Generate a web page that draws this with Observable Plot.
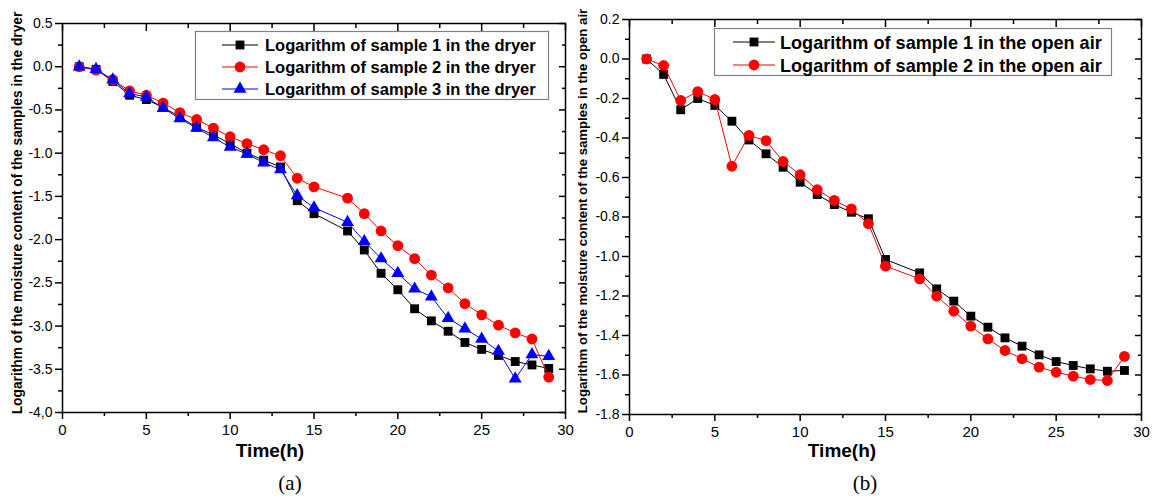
<!DOCTYPE html>
<html><head><meta charset="utf-8">
<script src="https://cdn.jsdelivr.net/npm/d3@7"></script>
<script src="https://cdn.jsdelivr.net/npm/@observablehq/plot@0.6"></script>
<style>
body{margin:0;background:#fff;}
#fig{position:relative;width:1157px;height:504px;background:#fff;font-family:"Liberation Sans",Arial,sans-serif;}
#fig > svg, #fig > div{position:absolute;top:0;}
</style></head><body><div id="fig"></div>
<script>
// ---- data ----
const hours = [1,2,3,4,5,6,7,8,9,10,11,12,13,14,15,17,18,19,20,21,22,23,24,25,26,27,28,29];

const dryer1 = [0,-0.03,-0.17,-0.33,-0.38,-0.47,-0.58,-0.70,-0.79,-0.89,-1.00,-1.08,-1.16,-1.55,-1.70,
                -1.90,-2.12,-2.39,-2.58,-2.80,-2.94,-3.06,-3.19,-3.27,-3.34,-3.41,-3.45,-3.49];
const dryer2 = [0,-0.04,-0.15,-0.28,-0.33,-0.42,-0.53,-0.61,-0.71,-0.81,-0.89,-0.96,-1.03,-1.29,-1.39,
                -1.52,-1.70,-1.90,-2.07,-2.22,-2.41,-2.56,-2.74,-2.87,-2.99,-3.08,-3.15,-3.59];
const dryer3 = [0,-0.03,-0.15,-0.31,-0.35,-0.48,-0.60,-0.71,-0.82,-0.93,-1.01,-1.11,-1.19,-1.49,-1.63,
                -1.80,-2.02,-2.22,-2.39,-2.57,-2.66,-2.91,-3.03,-3.15,-3.29,-3.61,-3.33,-3.35];

const air1 = [0,-0.078,-0.257,-0.200,-0.235,-0.315,-0.410,-0.480,-0.548,-0.624,-0.686,-0.737,-0.776,-0.809,-1.015,
              -1.083,-1.164,-1.226,-1.302,-1.358,-1.412,-1.454,-1.498,-1.532,-1.552,-1.569,-1.581,-1.577];
const air2 = [0,-0.033,-0.210,-0.165,-0.205,-0.543,-0.387,-0.413,-0.519,-0.586,-0.662,-0.716,-0.759,-0.834,-1.049,
              -1.113,-1.201,-1.277,-1.353,-1.417,-1.476,-1.518,-1.560,-1.586,-1.606,-1.623,-1.628,-1.506];

const dryerNames = ["Logarithm of sample 1 in the dryer","Logarithm of sample 2 in the dryer","Logarithm of sample 3 in the dryer"];
const airNames = ["Logarithm of sample 1 in the open air","Logarithm of sample 2 in the open air"];

const xTicks = [0,5,10,15,20,25,30];
const xTickLabels = ["0","5","10","15","20","25","30"];
const xMinor = [2.5,7.5,12.5,17.5,22.5,27.5];

const yTicksA = [0.5,0,-0.5,-1,-1.5,-2,-2.5,-3,-3.5,-4];
const yTickLabelsA = ["0.5","0.0","-0.5","-1.0","-1.5","-2.0","-2.5","-3.0","-3.5","-4,0"];
const yMinorA = [0.25,-0.25,-0.75,-1.25,-1.75,-2.25,-2.75,-3.25,-3.75];

const yTicksB = [0.2,0,-0.2,-0.4,-0.6,-0.8,-1,-1.2,-1.4,-1.6,-1.8];
const yTickLabelsB = ["0.2","0.0","-0.2","-0.4","-0.6","-0.8","-1.0","-1.2","-1.4","-1.6","-1.8"];
const yMinorB = [0.1,-0.1,-0.3,-0.5,-0.7,-0.9,-1.1,-1.3,-1.5,-1.7];

const xTitle = "Time(h)";
const yTitleA = "Logarithm of the moisture content of the samples in the dryer";
const yTitleB = "Logarithm of the moisture content of the samples in the open air";
const captions = ["(a)","(b)"];

// ---- helpers ----
function table(values, name){ return hours.map((h,i)=>({h, v: values[i], name})); }

const styles = {
  black: {stroke:"#000", fill:"#000", symbol:"square", r:5.0},
  red:   {stroke:"#ff0000", fill:"#ff0000", symbol:"circle", r:5.4},
  blue:  {stroke:"#0000ff", fill:"#0000ff", symbol:"triangle", r:4.8}
};

function seriesMarks(data, st){
  return [
    Plot.line(data, {x:"h", y:"v", stroke: st.stroke, strokeWidth: 1}),
    Plot.dot(data, {x:"h", y:"v", fill: st.fill, stroke: "none", symbol: st.symbol, r: st.r})
  ];
}

function axes(yTicks, yLabels, yMinor){
  const fx = new Map(xTicks.map((v,i)=>[v, xTickLabels[i]]));
  const fy = new Map(yTicks.map((v,i)=>[v, yLabels[i]]));
  const none = () => "";
  return [
    Plot.axisX({anchor:"bottom", ticks:xTicks, tickSize:7, tickPadding:5, tickFormat:d=>fx.get(d), fontSize:15, strokeWidth:1.5, label:null}),
    Plot.axisX({anchor:"bottom", ticks:xMinor, tickSize:4, tickFormat:none, strokeWidth:1.5, label:null}),
    Plot.axisX({anchor:"top", ticks:xTicks, tickSize:7, dy:7, tickFormat:none, strokeWidth:1.5, label:null}),
    Plot.axisX({anchor:"top", ticks:xMinor, tickSize:4, dy:4, tickFormat:none, strokeWidth:1.5, label:null}),
    Plot.axisY({anchor:"left", ticks:yTicks, tickSize:7, tickPadding:3, tickFormat:d=>fy.get(d), fontSize:14, strokeWidth:1.5, label:null}),
    Plot.axisY({anchor:"left", ticks:yMinor, tickSize:4, tickFormat:none, strokeWidth:1.5, label:null}),
    Plot.axisY({anchor:"right", ticks:yTicks, tickSize:7, dx:-7, tickFormat:none, strokeWidth:1.5, label:null}),
    Plot.axisY({anchor:"right", ticks:yMinor, tickSize:4, dx:-4, tickFormat:none, strokeWidth:1.5, label:null}),
    Plot.frame({stroke:"#000", strokeWidth:1.5})
  ];
}

const plotStyle = {fontFamily:"'Liberation Sans', Arial, sans-serif", color:"#000", background:"transparent", overflow:"visible"};

const fig = document.getElementById("fig");

// Chart (a)
const plotA = Plot.plot({
  width: 568, height: 450,
  marginLeft: 62, marginRight: 3, marginTop: 23, marginBottom: 38,
  x: {domain:[0,30]},
  y: {domain:[-4,0.5]},
  style: plotStyle,
  marks: [
    ...axes(yTicksA, yTickLabelsA, yMinorA),
    ...seriesMarks(table(dryer1), styles.black),
    ...seriesMarks(table(dryer2), styles.red),
    ...seriesMarks(table(dryer3), styles.blue)
  ]
});
plotA.style.left = "0px";
fig.appendChild(plotA);

// Chart (b)
const plotB = Plot.plot({
  width: 589, height: 450,
  marginLeft: 61, marginRight: 16, marginTop: 19, marginBottom: 36,
  x: {domain:[0,30]},
  y: {domain:[-1.8,0.2]},
  style: plotStyle,
  marks: [
    ...axes(yTicksB, yTickLabelsB, yMinorB),
    ...seriesMarks(table(air1), styles.black),
    ...seriesMarks(table(air2), styles.red)
  ]
});
plotB.style.left = "568px";
fig.appendChild(plotB);

// ---- overlay: titles, legends, captions ----
const ov = d3.select(fig).append("svg")
  .attr("width",1157).attr("height",504)
  .style("left","0px").style("pointer-events","none")
  .style("font-family","'Liberation Sans', Arial, sans-serif");

function fitText(sel, target, base){
  const w = sel.node().getComputedTextLength();
  if (w > 0) sel.attr("font-size", base * target / w);
}

// y titles
const ytA = ov.append("text").text(yTitleA).attr("font-weight","bold").attr("font-size",12.5)
  .attr("text-anchor","middle").attr("transform","translate(22,213) rotate(-90)");
fitText(ytA, 403, 12.5);
const ytB = ov.append("text").text(yTitleB).attr("font-weight","bold").attr("font-size",12.5)
  .attr("text-anchor","middle").attr("transform","translate(587,211) rotate(-90)");
fitText(ytB, 405, 12.5);

// x titles
ov.append("text").text(xTitle).attr("font-weight","bold").attr("font-size",19)
  .attr("text-anchor","middle").attr("x",270).attr("y",457);
ov.append("text").text(xTitle).attr("font-weight","bold").attr("font-size",19)
  .attr("text-anchor","middle").attr("x",842).attr("y",457);

// captions
ov.append("text").text(captions[0]).attr("font-family","'Liberation Serif', 'DejaVu Serif', serif")
  .attr("font-size",21).attr("text-anchor","middle").attr("x",290).attr("y",490);
ov.append("text").text(captions[1]).attr("font-family","'Liberation Serif', 'DejaVu Serif', serif")
  .attr("font-size",21).attr("text-anchor","middle").attr("x",865).attr("y",490);

// legends
function legend(box, rows, names, sts, lineX, markX, textX, textW, fs){
  ov.append("rect").attr("x",box[0]+0.5).attr("y",box[1]+0.5).attr("width",box[2]-box[0]).attr("height",box[3]-box[1])
    .attr("fill","#fff").attr("stroke","#808080").attr("stroke-width",1.2);
  names.forEach((n,i)=>{
    const st = sts[i], y = rows[i];
    ov.append("line").attr("x1",lineX[0]).attr("x2",lineX[1]).attr("y1",y).attr("y2",y).attr("stroke",st.stroke).attr("stroke-width",1);
    const sym = {square:d3.symbolSquare, circle:d3.symbolCircle, triangle:d3.symbolTriangle}[st.symbol];
    ov.append("path").attr("d", d3.symbol(sym, Math.PI*st.r*st.r)()).attr("transform",`translate(${markX},${y})`).attr("fill",st.fill);
    const t = ov.append("text").text(n).attr("font-weight","bold").attr("font-size",fs).attr("x",textX).attr("y",y).attr("dy","0.36em");
    fitText(t, textW, fs);
  });
}
legend([195,31,548,99],[45,67,89],dryerNames,[styles.black,styles.red,styles.blue],[222,258],240,265,271,15);
legend([714,28,1111,75],[42,65],airNames,[styles.black,styles.red],[733,775],754,780,322,16.5);
</script>
</body></html>
